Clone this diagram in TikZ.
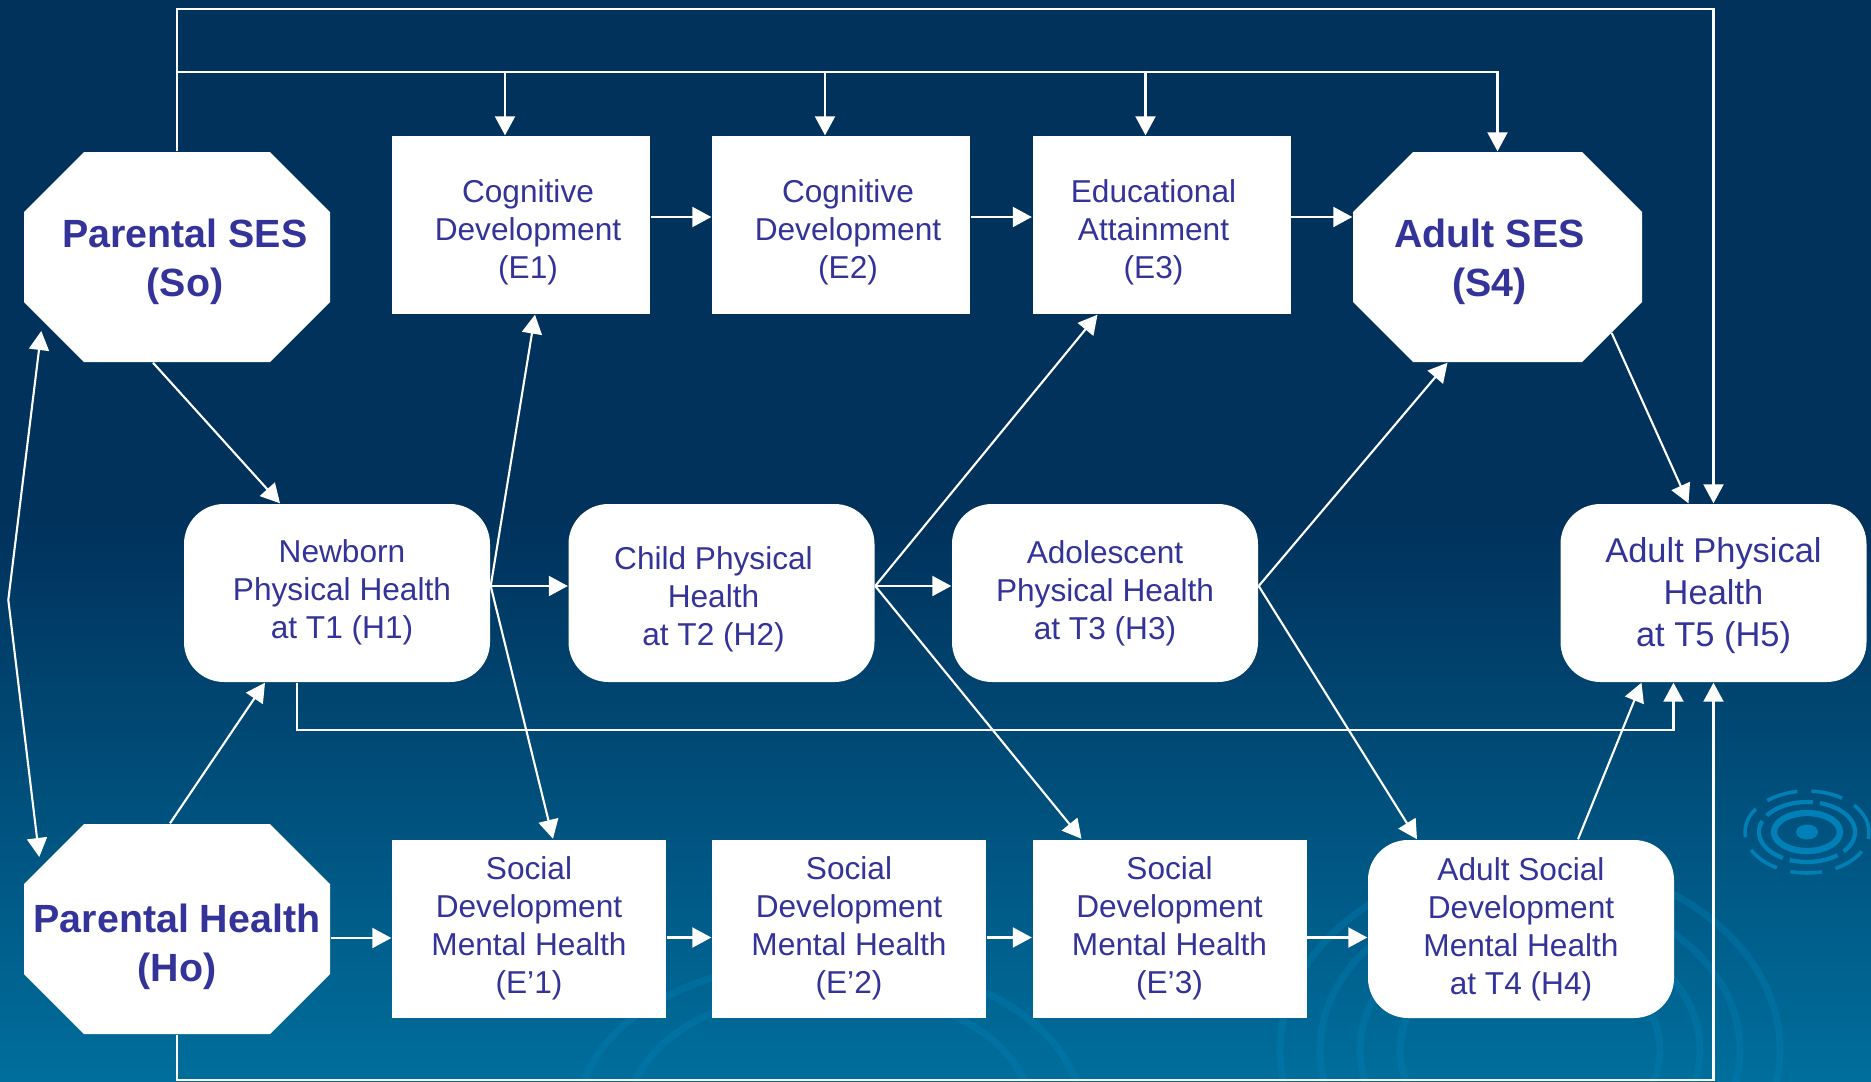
\documentclass[tikz,border=0pt]{standalone}
\usepackage{fontspec}
\setmainfont{Liberation Sans}
\usetikzlibrary{arrows.meta}

\definecolor{navy}{RGB}{0,50,92}
\definecolor{seablue}{RGB}{0,110,156}
\definecolor{ripple}{RGB}{0,128,182}
\definecolor{ink}{RGB}{51,51,153}

% lines of text, moved off the box centre by (#1 right, #2 down)
\newcommand{\shifted}[3]{\raisebox{-#2}[\height][\depth]{\kern#1\begin{tabular}{@{}c@{}}#3\end{tabular}\kern-#1}}

\begin{document}
\begin{tikzpicture}[x=0.1mm,y=-0.1mm,
  cell/.style={fill=white, text=ink, align=center, inner sep=0pt,
    font=\fontsize{9pt}{10.8pt}\selectfont},
  edubox/.style={cell, minimum width=25.8mm, minimum height=17.8mm},
  socbox/.style={cell, minimum width=27.4mm, minimum height=17.8mm},
  healthbox/.style={cell, rounded corners=4mm, minimum width=30.6mm, minimum height=17.8mm},
  sesbox/.style={text=ink, align=center, inner sep=0pt,
    minimum width=30.6mm, minimum height=21mm,
    font=\fontsize{11.2pt}{13.9pt}\selectfont\bfseries,
    path picture={
      \fill[white] ([xshift=6mm]path picture bounding box.north west)
        -- ([xshift=-6mm]path picture bounding box.north east)
        -- ([yshift=-6mm]path picture bounding box.north east)
        -- ([yshift=6mm]path picture bounding box.south east)
        -- ([xshift=-6mm]path picture bounding box.south east)
        -- ([xshift=6mm]path picture bounding box.south west)
        -- ([yshift=6mm]path picture bounding box.south west)
        -- ([yshift=-6mm]path picture bounding box.north west) -- cycle;}},
  link/.style={draw=white, line width=0.6pt, >={Triangle[length=1.9mm,width=2mm]}},
]
\useasboundingbox (0,0) rectangle (1871,1081);

% background
\fill[navy] (0,0) rectangle (1871,1081);
\shade[top color=navy, bottom color=seablue] (0,520) rectangle (1871,1081);
\begin{scope}
\clip (0,0) rectangle (1871,1081);
\fill[ripple] (1807,832) ellipse [x radius=1.1mm, y radius=0.75mm];
\draw[ripple, line width=1.8pt] (1807,832) ellipse [x radius=3.3mm, y radius=1.9mm];
\draw[ripple, line width=1.2pt, dash pattern=on 14pt off 2pt] (1807,832) ellipse [x radius=4.8mm, y radius=3mm];
\draw[ripple, line width=1pt, dash pattern=on 9pt off 4pt] (1807,832) ellipse [x radius=6.2mm, y radius=4.1mm];
\draw[ripple, opacity=.35, line width=2pt] (1530,1050) ellipse [x radius=13mm, y radius=10mm];
\draw[ripple, opacity=.35, line width=2pt] (1530,1050) ellipse [x radius=17mm, y radius=13mm];
\draw[ripple, opacity=.35, line width=2pt] (1530,1050) ellipse [x radius=21mm, y radius=16mm];
\draw[ripple, opacity=.35, line width=2pt] (1530,1050) ellipse [x radius=25mm, y radius=19mm];
\draw[ripple, opacity=.35, line width=2pt] (830,1110) ellipse [x radius=20mm, y radius=12mm];
\draw[ripple, opacity=.35, line width=2pt] (830,1110) ellipse [x radius=25mm, y radius=15mm];
\end{scope}

% SES and parental health
\node[sesbox] (so) at (177,257) {\shifted{0.8mm}{0.5mm}{Parental SES\\(So)}};
\node[sesbox, minimum width=28.9mm] (s4) at (1497.5,257) {\shifted{-0.8mm}{0.5mm}{Adult SES\\(S4)}};
\node[sesbox] (ho) at (177,929) {\shifted{0mm}{1.8mm}{Parental Health\\(Ho)}};

% education row
\node[edubox] (e1) at (521,225) {\shifted{0.7mm}{0.8mm}{Cognitive\\Development\\(E1)}};
\node[edubox] (e2) at (841,225) {\shifted{0.7mm}{0.8mm}{Cognitive\\Development\\(E2)}};
\node[edubox] (e3) at (1161.5,225) {\shifted{-0.8mm}{0.8mm}{Educational\\Attainment\\(E3)}};

% physical health row
\node[healthbox] (h1) at (337,593) {\shifted{0.5mm}{0mm}{Newborn\\Physical Health\\at T1 (H1)}};
\node[healthbox] (h2) at (721.5,593) {\shifted{-0.8mm}{0.7mm}{Child Physical\\Health\\at T2 (H2)}};
\node[healthbox] (h3) at (1105,593) {Adolescent\\Physical Health\\at T3 (H3)};
\node[healthbox, font=\fontsize{9.8pt}{11.9pt}\selectfont] (h5) at (1713.5,593)
  {\shifted{0mm}{0.3mm}{Adult Physical\\Health\\at T5 (H5)}};

% social development row
\node[socbox] (ep1) at (529,928.5) {Social\\Development\\Mental Health\\(E’1)};
\node[socbox] (ep2) at (849,928.5) {Social\\Development\\Mental Health\\(E’2)};
\node[socbox] (ep3) at (1169.5,928.5) {Social\\Development\\Mental Health\\(E’3)};
\node[healthbox] (h4) at (1521,929) {Adult Social\\Development\\Mental Health\\at T4 (H4)};

% long lines round the outside
\draw[link,->] (so.north) -- ++(0,14.2mm) -| (h5.north);
\coordinate (bus) at ([yshift=7.9mm]so.north);
\draw[link,->] (bus) -| (s4.north);
\foreach \n in {e1,e2,e3}
  \draw[link,->] ([xshift=-1.6mm]\n.north |- bus) -- ([xshift=-1.6mm]\n.north);
\draw[link,->] ([xshift=-4mm]h1.south) -- ++(0,-4.7mm) -| ([xshift=-4mm]h5.south);
\draw[link,->] (ho.south) -- ++(0,-4.5mm) -| (h5.south);

% so <-> ho
\coordinate (bend) at ([xshift=-1.5mm, yshift=-0.7mm]so.west |- h1.center);
\draw[link,<->] ([shift={(1.8mm,-7.4mm)}]so.west) -- (bend) -- ([shift={(1.6mm,7.2mm)}]ho.west);

% top row
\draw[link,->] ([yshift=0.8mm]e1.east) -- ([yshift=0.8mm]e2.west);
\draw[link,->] ([yshift=0.8mm]e2.east) -- ([yshift=0.8mm]e3.west);
\draw[link,->] ([yshift=0.8mm]e3.east) -- ([yshift=0.8mm]e3.east -| s4.west);

% middle row
\draw[link,->] ([xshift=-2.4mm]so.south) -- ([xshift=-5.7mm]h1.north);
\draw[link,->] ([xshift=-0.7mm]ho.north) -- ([xshift=-7.2mm]h1.south);
\draw[link,->] ([yshift=0.7mm]h1.east) -- ([yshift=0.7mm]h2.west);
\draw[link,->] ([yshift=0.7mm]h1.east) -- ([xshift=1.4mm]e1.south);
\draw[link,->] ([yshift=0.7mm]h1.east) -- ([xshift=2.4mm]ep1.north);
\draw[link,->] ([yshift=0.7mm]h2.east) -- ([yshift=0.7mm]h3.west);
\draw[link,->] ([yshift=0.7mm]h2.east) -- ([xshift=-6.4mm]e3.south);
\draw[link,->] ([yshift=0.7mm]h2.east) -- ([xshift=-8.8mm]ep3.north);
\draw[link,->] ([yshift=0.7mm]h3.east) -- ([xshift=-5mm]s4.south);
\draw[link,->] ([yshift=0.7mm]h3.east) -- ([xshift=-10.4mm]h4.north);
\draw[link,->] ([shift={(-3.1mm,-7.6mm)}]s4.east) -- ([xshift=-2.5mm]h5.north);
\draw[link,->] ([xshift=5.7mm]h4.north) -- ([xshift=-7.2mm]h5.south);

% bottom row
\draw[link,->] ([yshift=-0.9mm]ho.east) -- ([yshift=-0.9mm]ho.east -| ep1.west);
\draw[link,->] ([yshift=-0.9mm]ep1.east) -- ([yshift=-0.9mm]ep2.west);
\draw[link,->] ([yshift=-0.9mm]ep2.east) -- ([yshift=-0.9mm]ep3.west);
\draw[link,->] ([yshift=-0.9mm]ep3.east) -- ([yshift=-0.9mm]ep3.east -| h4.west);
\end{tikzpicture}
\end{document}
